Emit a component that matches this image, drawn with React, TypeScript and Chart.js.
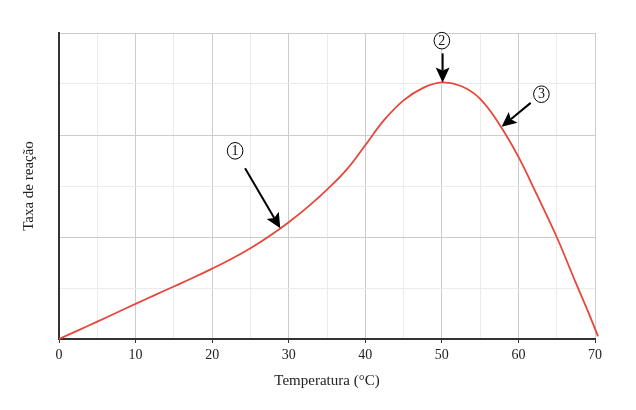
import React, { useEffect, useRef } from 'react';
import { Chart, registerables } from 'chart.js';

Chart.register(...registerables);

// Curve data (temperature °C -> reaction rate, arbitrary units)
const temperatures = [0, 2.5, 5, 7.5, 10, 12.5, 15, 17.5, 20, 22.5, 25, 27.5, 30, 32.5, 35, 37.5, 40, 42.5, 45, 47.5, 50, 52.5, 55, 57.5, 60, 62.5, 65, 67.5, 69, 70.4];
const reactionRates = [0, 0.17, 0.34, 0.515, 0.69, 0.86, 1.03, 1.2, 1.38, 1.57, 1.78, 2.02, 2.29, 2.59, 2.93, 3.31, 3.8, 4.3, 4.68, 4.92, 5.03, 4.96, 4.71, 4.21, 3.57, 2.8, 2.0, 1.1, 0.57, 0.05];

// Axis settings
const xMin = 0;
const xMax = 70;
const xMinorStep = 5;
const xMajorStep = 10;
const yMin = 0;
const yMax = 6;
const yMajorEvery = 2;

// Callouts (data coordinates)
const calloutLabels = ['1', '2', '3'];
const calloutLabelX = [23.0, 50.0, 63.0];
const calloutLabelY = [3.69, 5.85, 4.8];
const arrowStartX = [24.3, 50.1, 61.6];
const arrowStartY = [3.35, 5.6, 4.63];
const arrowTipX = [28.9, 50.1, 57.8];
const arrowTipY = [2.17, 5.03, 4.16];

const FONT = "'Liberation Serif', serif";
const MAJOR_GRID = '#cccccc';
const MINOR_GRID = '#ebebeb';
const AXIS_COLOR = '#333333';
const LINE_COLOR = '#e8463a';

const calloutPlugin = {
  id: 'callouts',
  afterDatasetsDraw(chart: any) {
    const { ctx } = chart;
    const xs = chart.scales.x;
    const ys = chart.scales.y;
    ctx.save();
    for (let i = 0; i < calloutLabels.length; i++) {
      const sx = xs.getPixelForValue(arrowStartX[i]);
      const sy = ys.getPixelForValue(arrowStartY[i]);
      const tx = xs.getPixelForValue(arrowTipX[i]);
      const ty = ys.getPixelForValue(arrowTipY[i]);
      const ang = Math.atan2(ty - sy, tx - sx);
      const headLen = 15;
      const headHalf = 7;
      const cos = Math.cos(ang);
      const sin = Math.sin(ang);
      const bx = tx - headLen * cos;
      const by = ty - headLen * sin;
      ctx.strokeStyle = '#000';
      ctx.fillStyle = '#000';
      ctx.lineWidth = 2;
      ctx.beginPath();
      ctx.moveTo(sx, sy);
      ctx.lineTo(tx - (headLen - 3) * cos, ty - (headLen - 3) * sin);
      ctx.stroke();
      ctx.beginPath();
      ctx.moveTo(tx, ty);
      ctx.lineTo(bx + headHalf * sin, by - headHalf * cos);
      ctx.lineTo(tx - (headLen - 3) * cos, ty - (headLen - 3) * sin);
      ctx.lineTo(bx - headHalf * sin, by + headHalf * cos);
      ctx.closePath();
      ctx.fill();

      const cx = xs.getPixelForValue(calloutLabelX[i]);
      const cy = ys.getPixelForValue(calloutLabelY[i]);
      ctx.lineWidth = 1;
      ctx.fillStyle = '#fff';
      ctx.beginPath();
      ctx.ellipse(cx, cy, 7.8, 8.3, 0, 0, Math.PI * 2);
      ctx.fill();
      ctx.stroke();
      ctx.fillStyle = '#111';
      ctx.font = `14px ${FONT}`;
      ctx.textAlign = 'center';
      ctx.textBaseline = 'middle';
      ctx.fillText(calloutLabels[i], cx, cy + 0.5);
    }
    ctx.restore();
  },
};

export default function App() {
  const canvasRef = useRef<HTMLCanvasElement | null>(null);

  useEffect(() => {
    document.body.style.margin = '0';
    const canvas = canvasRef.current;
    if (!canvas) return;
    const chart = new Chart(canvas, {
      type: 'line',
      data: {
        datasets: [
          {
            data: temperatures.map((t, i) => ({ x: t, y: reactionRates[i] })),
            borderColor: LINE_COLOR,
            borderWidth: 1.8,
            pointRadius: 0,
            fill: false,
            tension: 0.4,
            clip: false as any,
          },
        ],
      },
      options: {
        responsive: false,
        animation: false,
        events: [],
        layout: { padding: { left: 0, right: 41, top: 33, bottom: 0 } },
        plugins: {
          legend: { display: false },
          tooltip: { enabled: false },
        },
        scales: {
          x: {
            type: 'linear',
            min: xMin,
            max: xMax,
            afterFit(scale: any) {
              scale.height = 71;
            },
            ticks: {
              stepSize: xMinorStep,
              autoSkip: false,
              maxRotation: 0,
              padding: 4,
              color: '#222',
              font: { family: FONT, size: 14 },
              callback: (v: any) => (Number(v) % xMajorStep === 0 ? String(v) : ''),
            },
            grid: {
              color: (ctx: any) => (ctx.tick && ctx.tick.value % xMajorStep === 0 ? MAJOR_GRID : MINOR_GRID),
              tickColor: (ctx: any) => (ctx.tick && ctx.tick.value % xMajorStep === 0 ? AXIS_COLOR : 'rgba(0,0,0,0)'),
              tickLength: 4,
              lineWidth: 1,
            },
            border: { color: AXIS_COLOR, width: 2 },
            title: {
              display: true,
              text: 'Temperatura (°C)',
              color: '#222',
              font: { family: FONT, size: 15 },
              padding: { top: 20, bottom: 20 },
            },
          },
          y: {
            type: 'linear',
            min: yMin,
            max: yMax,
            afterFit(scale: any) {
              scale.width = 59;
            },
            ticks: { display: false, stepSize: 1 },
            grid: {
              color: (ctx: any) => (ctx.tick && ctx.tick.value % yMajorEvery === 0 ? MAJOR_GRID : MINOR_GRID),
              drawTicks: false,
              lineWidth: 1,
            },
            border: { color: AXIS_COLOR, width: 2 },
            title: {
              display: true,
              text: 'Taxa de reação',
              color: '#222',
              font: { family: FONT, size: 15 },
              padding: { top: 20, bottom: 20 },
            },
          },
        },
      },
      plugins: [calloutPlugin],
    });
    return () => chart.destroy();
  }, []);

  return (
    <div style={{ position: 'absolute', left: 0, top: 0, width: 636, height: 410 }}>
      <canvas ref={canvasRef} width={636} height={410} style={{ width: 636, height: 410 }} />
    </div>
  );
}
